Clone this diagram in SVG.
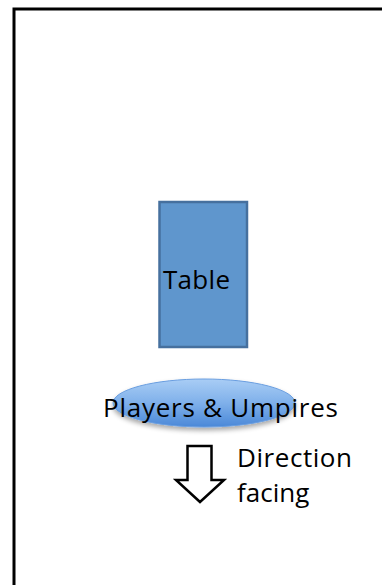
<svg xmlns="http://www.w3.org/2000/svg" width="382" height="585" viewBox="0 0 382 585">
<defs>
<style>
.lbl{font-family:"Open Sans","Noto Sans","Liberation Sans",sans-serif;font-size:26px;fill:#000}
</style>
<linearGradient id="ellG" x1="0" y1="0" x2="0" y2="1">
<stop offset="0" stop-color="#a9cdf5"/>
<stop offset="0.5" stop-color="#7fb0ea"/>
<stop offset="1" stop-color="#4a88d8"/>
</linearGradient>
<filter id="sh" x="-20%" y="-30%" width="140%" height="180%">
<feGaussianBlur in="SourceAlpha" stdDeviation="2.5"/>
<feOffset dy="3" result="b"/>
<feComponentTransfer><feFuncA type="linear" slope="0.35"/></feComponentTransfer>
<feMerge><feMergeNode/><feMergeNode in="SourceGraphic"/></feMerge>
</filter>
</defs>
<rect width="382" height="585" fill="#fff"/>
<g id="frame">
<path d="M14 590 V9 H390" fill="none" stroke="#000" stroke-width="3"/>
</g>
<g id="table">
<rect x="159.5" y="202" width="87.5" height="145" fill="#5f96cd" stroke="#46709e" stroke-width="2.5"/>
<text class="lbl" x="163" y="289" textLength="67">Table</text>
</g>
<g id="players">
<ellipse cx="204" cy="403" rx="91" ry="24" fill="url(#ellG)" stroke="#6a9ee0" stroke-width="1" filter="url(#sh)"/>
<text class="lbl" x="103" y="417" textLength="235">Players &amp; Umpires</text>
</g>
<g id="direction">
<polygon points="187.5,446 211.5,446 211.5,480 224,480 200,502 176,480 187.5,480" fill="#fff" stroke="#000" stroke-width="2.5" stroke-linejoin="miter"/>
<text class="lbl" x="237" y="467" textLength="115">Direction</text>
<text class="lbl" x="237" y="502">facing</text>
</g>
<g id="connectors"/>
</svg>
